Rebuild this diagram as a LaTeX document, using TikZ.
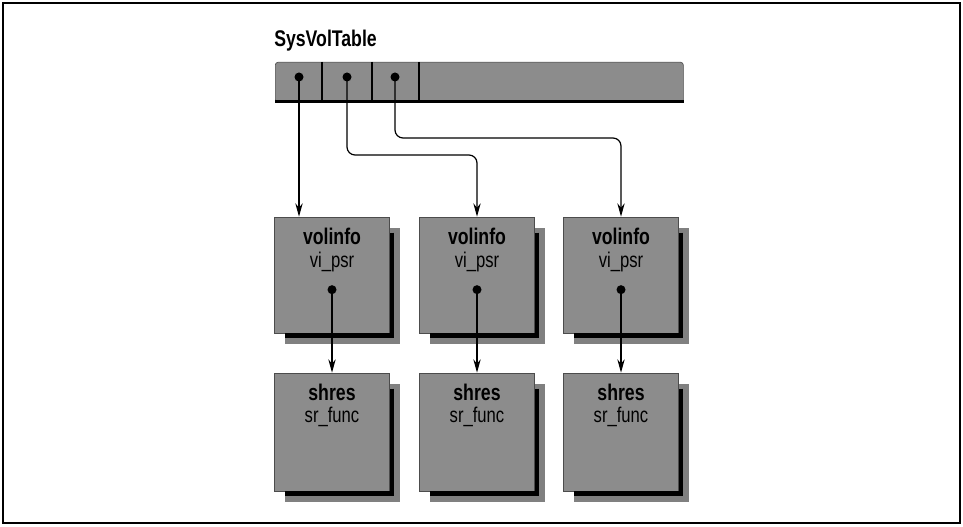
\documentclass[tikz,border=0pt]{standalone}
\usepackage{fontspec}
\setmainfont[FakeStretch=0.78]{Liberation Sans}
\usetikzlibrary{arrows.meta,shadows}
\begin{document}
\begin{tikzpicture}[x=0.75pt,y=-0.75pt,
  cell/.style={draw=black!70,line width=0.5pt,fill=black!45,
    general shadow={fill=black!50,shadow xshift=8pt,shadow yshift=-8pt}},
  vbox/.style={cell,minimum width=115*0.75pt,minimum height=116*0.75pt,inner sep=0pt},
  sbox/.style={cell,minimum width=115*0.75pt,minimum height=118*0.75pt,inner sep=0pt},
  edge/.style={line width=3.5pt,black},
  ptr/.style={circle,fill=black,inner sep=0pt,minimum size=9*0.75pt},
  arr/.style={line width=0.9pt,rounded corners=6pt,-{Stealth[length=10pt,width=5.5pt]}},
  bold/.style={font=\fontsize{17}{19}\selectfont\bfseries,inner sep=0pt},
  reg/.style={font=\fontsize{16}{18}\selectfont,inner sep=0pt}]
\useasboundingbox (0,0) rectangle (963,527);
\draw[line width=1.5pt] (3,3) rectangle (960,523);
% title and table
\node[bold,anchor=base west] (title) at (274,47) {SysVolTable};
\node[draw=black!70,line width=0.5pt,fill=black!45,minimum width=408*0.75pt,minimum height=40*0.75pt,inner sep=0pt,
  rounded corners=2pt,anchor=north west] (svt) at (275,62) {};
\draw[edge,line width=2.5pt] ([yshift=1pt]svt.south west) -- ([yshift=1pt]svt.south east);
\draw[line width=0.8pt] (322,62) -- (322,102) (372,62) -- (372,102) (419,62) -- (419,102);
\node[ptr] (p1) at (299,77) {};
\node[ptr] (p2) at (347,77) {};
\node[ptr] (p3) at (395,77) {};
% volinfo boxes
\node[vbox] (v1) at (332,275) {};
\node[vbox] (v2) at (477,275) {};
\node[vbox] (v3) at (621,275) {};
% shres boxes
\node[sbox] (s1) at (332,432) {};
\node[sbox] (s2) at (477,432) {};
\node[sbox] (s3) at (621,432) {};
% edges and labels
\foreach \b in {v1,v2,v3,s1,s2,s3}{
  \draw[edge] ([xshift=1.5pt,yshift=-12pt]\b.north east) -- ([xshift=1.5pt,yshift=-1.5pt]\b.south east)
     -- ([xshift=8pt,yshift=-1.5pt]\b.south west);
}
\foreach \b in {v1,v2,v3}{
  \node[bold] (\b t) at ([yshift=-20*0.75pt]\b.north) {volinfo};
  \node[reg] (\b u) at ([yshift=-45*0.75pt]\b.north) {vi\_psr};
  \node[ptr] (\b p) at ([yshift=-73*0.75pt]\b.north) {};
}
\foreach \b in {s1,s2,s3}{
  \node[bold] (\b t) at ([yshift=-20*0.75pt]\b.north) {shres};
  \node[reg] (\b u) at ([yshift=-44*0.75pt]\b.north) {sr\_func};
}
% connectors
\draw[arr] (p1.center) -- (p1.center |- v1.north);
\draw[arr] (p2.center) -- ++(0,78) -| (v2.north);
\draw[arr] (p3.center) -- ++(0,61) -| (v3.north);
\draw[arr] (v1p.center) -- (s1.north);
\draw[arr] (v2p.center) -- (s2.north);
\draw[arr] (v3p.center) -- (s3.north);
\end{tikzpicture}
\end{document}
